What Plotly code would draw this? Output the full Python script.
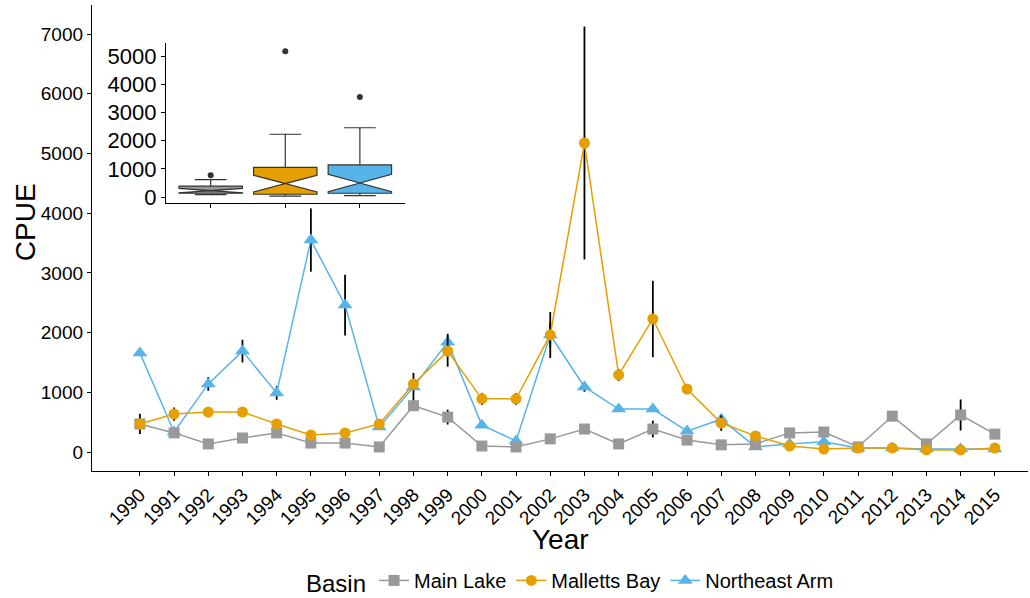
import plotly.graph_objects as go

years = list(range(1990, 2016))
main_lake = [470, 320, 135, 235, 320, 150, 150, 85, 775, 585, 100, 85, 220,
             385, 135, 385, 200, 120, 135, 320, 335, 85, 600, 135, 620, 300]
malletts_bay = [470, 635, 670, 670, 470, 285, 320, 470, 1140, 1690, 890, 890, 1960,
                5175, 1290, 2228, 1055, 485, 270, 100, 50, 67, 67, 35, 35, 67]
northeast_arm = [1660, 335, 1140, 1690, 990, 3550, 2460, 420, 1090, 1840, 450, 185, 1960,
                 1090, 720, 720, 350, 550, 85, 135, 170, 67, 67, 50, 50, 50]
main_lake_err = [170, 0, 0, 0, 0, 0, 0, 0, 0, 125, 0, 0, 0,
                 0, 0, 140, 0, 0, 0, 0, 0, 0, 50, 0, 260, 0]
malletts_err = [0, 110, 60, 60, 0, 0, 0, 0, 0, 260, 100, 100, 385,
                1950, 100, 640, 0, 130, 50, 0, 0, 0, 0, 0, 0, 0]
northeast_err = [0, 0, 115, 190, 115, 530, 510, 0, 235, 140, 0, 0, 210,
                 80, 50, 0, 0, 0, 0, 0, 0, 0, 0, 0, 0, 0]
basins = ["Main Lake", "Malletts Bay", "Northeast Arm"]
colors = ["#999999", "#E69F00", "#56B4E9"]
symbols = ["square", "circle", "triangle-up"]
msizes = [11, 11, 13]
y_ticks = [0, 1000, 2000, 3000, 4000, 5000, 6000, 7000]
inset_ticks = [0, 1000, 2000, 3000, 4000, 5000]

series = [main_lake, malletts_bay, northeast_arm]
errs = [main_lake_err, malletts_err, northeast_err]

FONT = "Liberation Sans, Arial, Helvetica, sans-serif"
fig = go.Figure()

draw_order = [2, 0, 1]
for i in draw_order:
    fig.add_trace(go.Scatter(
        x=years, y=series[i], name=basins[i], mode="lines+markers",
        line=dict(color=colors[i], width=1.5),
        marker=dict(symbol=symbols[i], size=msizes[i], color=colors[i]),
        error_y=dict(type="data", array=errs[i], visible=True, width=0,
                     thickness=1.8, color="black"),
        legendrank=i + 1,
    ))

for i in range(3):
    fig.add_trace(go.Box(
        y=series[i], x=[basins[i]] * len(series[i]), name=basins[i],
        xaxis="x2", yaxis="y2", notched=True, notchwidth=0.5,
        fillcolor=colors[i], line=dict(color="#333333", width=1.2),
        marker=dict(color="#333333", size=6), boxpoints="outliers",
        width=0.85, showlegend=False, quartilemethod="inclusive",
        hoverinfo="y",
    ))

axis_common = dict(showline=True, linecolor="black", linewidth=1.3, ticks="outside",
                   ticklen=4, tickcolor="black", showgrid=False, zeroline=False,
                   automargin=False)

fig.update_layout(
    width=1030, height=598,
    margin=dict(l=92, r=2, t=5, b=127, autoexpand=False),
    paper_bgcolor="white", plot_bgcolor="white",
    font=dict(family=FONT, color="black"),
    xaxis=dict(range=[1988.6, 2015.97], tickvals=years, ticktext=[str(y) for y in years],
               tickangle=-45, tickfont=dict(size=19), **axis_common),
    yaxis=dict(range=[-318, 7486], tickvals=y_ticks, tickfont=dict(size=19), **axis_common),
    xaxis2=dict(domain=[0.079, 0.334], anchor="y2", type="category", range=[-0.6, 2.6],
                showticklabels=False, **axis_common),
    yaxis2=dict(domain=[0.575, 0.918], anchor="x2", range=[-213, 5460],
                tickvals=inset_ticks, tickfont=dict(size=22), **axis_common),
    legend=dict(orientation="h", x=0.2265, xanchor="left", y=-0.238, yanchor="middle",
                title=dict(text="Basin", font=dict(size=24)), font=dict(size=20),
                itemwidth=30, traceorder="normal"),
    annotations=[
        dict(text="Year", x=0.5, y=-0.146, xref="paper", yref="paper",
             xanchor="center", yanchor="middle", showarrow=False, font=dict(size=28)),
        dict(text="CPUE", x=-0.0716, y=0.534, xref="paper", yref="paper",
             xanchor="center", yanchor="middle", textangle=-90, showarrow=False,
             font=dict(size=28)),
    ],
)

fig.write_html("out.html")
